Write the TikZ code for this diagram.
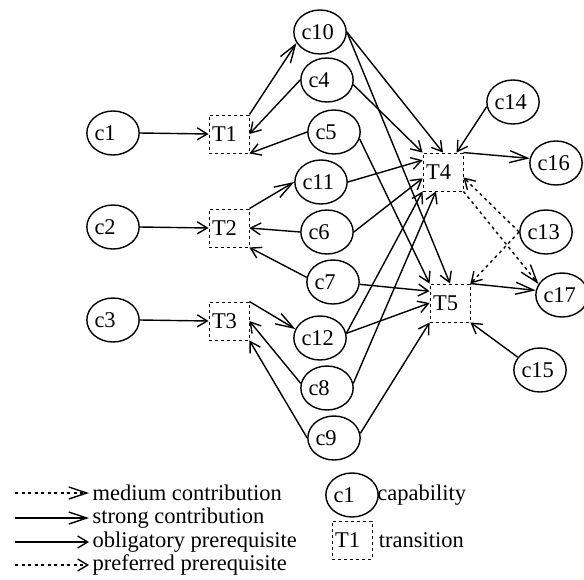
\documentclass[tikz,border=0pt]{standalone}
\usepackage{fontspec}
\setmainfont{Liberation Serif}
\usetikzlibrary{arrows.meta,positioning,shapes.geometric}
\tikzset{
  capab/.style={ellipse,draw,line width=1.4pt,minimum width=52pt,minimum height=44pt,inner sep=0pt,text width=37pt,align=left},
  transbox/.style={rectangle,draw,line width=0.9pt,dash pattern=on 3pt off 3pt,minimum width=40pt,minimum height=38pt,inner sep=3pt,text width=34pt,align=left},
  oblig/.style={-{Straight Barb[length=10pt,width=12pt]},line width=1.4pt},
  strong/.style={-{Straight Barb[length=18pt,width=12pt]},line width=1.4pt},
  medium/.style={strong,dash pattern=on 3pt off 3.5pt},
  preferred/.style={oblig,dash pattern=on 3pt off 3.5pt}
}
\begin{document}
\begin{tikzpicture}[x=1pt,y=-1pt,font=\fontsize{22.5}{26}\selectfont]
  \useasboundingbox (0,0) rectangle (584,579);

  % inputs and first transitions
  \node[capab] (c1) at (113,133) {c1};
  \node[capab] (c2) at (113,227) {c2};
  \node[capab] (c3) at (113,320) {c3};
  \node[transbox] (T1) at (229,134) {T1};
  \node[transbox] (T2) at (229,228) {T2};
  \node[transbox] (T3) at (229,321) {T3};

  % middle column
  \node[capab] (c10) at (320,32) {c10};
  \node[capab] (c4) at (327,80) {c4};
  \node[capab] (c5) at (334,132) {c5};
  \node[capab] (c11) at (321,182) {c11};
  \node[capab] (c6) at (327,232) {c6};
  \node[capab] (c7) at (333,282) {c7};
  \node[capab] (c12) at (320,338) {c12};
  \node[capab] (c8) at (327,388) {c8};
  \node[capab] (c9) at (334,438) {c9};

  % second transitions and outputs
  \node[transbox] (T4) at (443,172) {T4};
  \node[transbox] (T5) at (450,303) {T5};
  \node[capab] (c14) at (513,102) {c14};
  \node[capab] (c16) at (556,163) {c16};
  \node[capab] (c13) at (546,232) {c13};
  \node[capab] (c17) at (562,295) {c17};
  \node[capab] (c15) at (540,370) {c15};

  \draw[oblig] (c1.east) -- (T1.west);
  \draw[oblig] (c2.east) -- (T2.west);
  \draw[oblig] (c3.east) -- (T3.west);

  \draw[strong] (T1.north east) -- (c10.205);
  \draw[oblig] (c4.west) -- (T1.east);
  \draw[oblig] (c5.west) -- (T1.south east);
  \draw[strong] (T2.north east) -- (c11.west);
  \draw[oblig] (c6.west) -- (T2.east);
  \draw[oblig] (c7.170) -- (T2.south east);
  \draw[strong] (T3.north east) -- (c12.160);
  \draw[oblig] (c8.170) -- (T3.east);
  \draw[oblig] (c9.west) -- (T3.south east);

  \draw[oblig] (c10.east) -- (T4.north);
  \draw[oblig] (c10.east) -- (T5.north);
  \draw[oblig] (c4.-10) -- (T4.north west);
  \draw[oblig] (c5.-15) -- (T5.north west);
  \draw[oblig] (c11.east) -- (T4.150);
  \draw[oblig] (c6.east) -- (T4.197);
  \draw[oblig] (c7.-5) -- (T5.150);
  \draw[oblig] (c12.10) -- (T4.south west);
  \draw[oblig] (c12.10) -- (T5.west);
  \draw[oblig] (c8.10) -- (T4.250);
  \draw[oblig] (c9.10) -- (T5.south west);

  \draw[oblig] (c14.190) -- (T4.55);
  \draw[strong] (T4.north east) -- (c16.170);
  \draw[preferred] (c13.west) -- (T4.-15);
  \draw[medium] (T4.south east) -- (c17.155);
  \draw[preferred] (c13.west) -- (T5.north east);
  \draw[strong] (T5.north east) -- (c17.170);
  \draw[oblig] (c15.150) -- (T5.south east);

  % legend
  \coordinate (legm) at (15,493);
  \coordinate (legs) at (15,518);
  \coordinate (lego) at (15,542);
  \coordinate (legp) at (15,565);
  \node[anchor=west] (legmtext) at (89,493) {medium contribution};
  \node[anchor=west] (legstext) at (89,518) {strong contribution};
  \node[anchor=west] (legotext) at (89,542) {obligatory prerequisite};
  \node[anchor=west] (legptext) at (89,565) {preferred prerequisite};
  \draw[medium] (legm) -- (legmtext.west);
  \draw[strong] (legs) -- (legstext.west);
  \draw[oblig] (lego) -- (legotext.west);
  \draw[preferred] (legp) -- (legptext.west);

  \node[capab] (legcap) at (352,495) {c1};
  \node[right=-5pt of legcap] (legcaptext) {capability};
  \node[transbox] (legtrans) at (352,540) {T1};
  \node[right=3pt of legtrans] (legtranstext) {transition};
\end{tikzpicture}
\end{document}
